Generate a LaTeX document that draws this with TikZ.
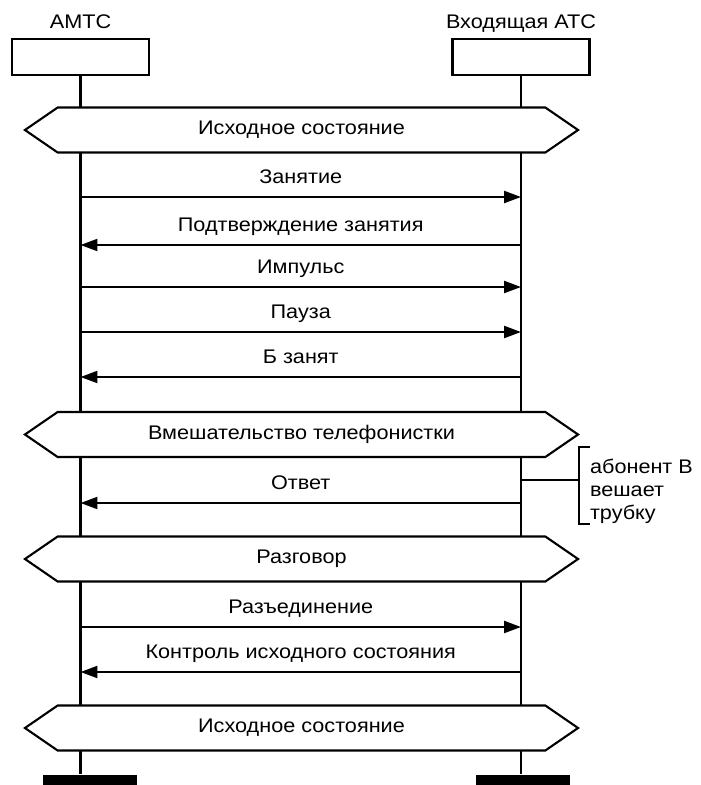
\documentclass[tikz,border=0pt]{standalone}
\usepackage{fontspec}
\setmainfont{Liberation Sans}[FakeStretch=1.1]
\usetikzlibrary{shapes.symbols, arrows.meta, positioning}

\begin{document}
\begin{tikzpicture}[
    x=0.025cm, y=-0.025cm,
    font=\fontsize{14}{16.4}\selectfont,
    >={Triangle[length=12pt, width=8.5pt]},
    line width=1.5pt,
    unit/.style={
        draw, minimum width=3.425cm, minimum height=0.9cm, inner sep=0pt
    },
    state/.style={
        draw, fill=white, signal, signal to=west and east, signal pointer angle=69,
        minimum width=13.825cm, minimum height=1.125cm, inner sep=0pt
    },
    stopbar/.style={
        fill=black, minimum width=2.35cm, minimum height=0.3cm, inner sep=0pt
    },
    msg/.style={->},
    lab/.style={midway, anchor=base, yshift=9.5pt}
]
\useasboundingbox (0,0) rectangle (701,785);

% EXCHANGES (top)
\node[anchor=base] (amtsname) at (80.5,28) {АМТС};
\node[anchor=base] (atcname) at (521,28) {Входящая АТС};
\node[unit] (amts) at (80.5,57) {};
\node[unit] (atc) at (521,57) {};

% END BARS
\node[stopbar] (amtsend) at (90,781) {};
\node[stopbar] (atcend) at (523,781) {};

% LIFELINES
\draw (amts.south) -- (amts.south |- amtsend.north);
\draw (atc.south) -- (atc.south |- atcend.north);

% STATES
\node[state] (idle1) at (301.5,130) {Исходное состояние};
\node[state] (operator) at (301.5,434.5) {Вмешательство телефонистки};
\node[state] (talk) at (301.5,559) {Разговор};
\node[state] (idle2) at (301.5,728) {Исходное состояние};

% MESSAGES
\coordinate (m1) at (0,197);
\coordinate (m2) at (0,245);
\coordinate (m3) at (0,287);
\coordinate (m4) at (0,332);
\coordinate (m5) at (0,377);
\coordinate (m6) at (0,503);
\coordinate (m7) at (0,627);
\coordinate (m8) at (0,672);

\draw[msg] (amts |- m1) -- (atc |- m1) node[lab] {Занятие};
\draw[msg] (atc |- m2) -- (amts |- m2) node[lab] {Подтверждение занятия};
\draw[msg] (amts |- m3) -- (atc |- m3) node[lab] {Импульс};
\draw[msg] (amts |- m4) -- (atc |- m4) node[lab] {Пауза};
\draw[msg] (atc |- m5) -- (amts |- m5) node[lab] {Б занят};
\draw[msg] (atc |- m6) -- (amts |- m6) node[lab] {Ответ};
\draw[msg] (amts |- m7) -- (atc |- m7) node[lab] {Разъединение};
\draw[msg] (atc |- m8) -- (amts |- m8) node[lab] {Контроль исходного состояния};

% SUBSCRIBER B HANGS UP
\node[anchor=west, align=left, inner sep=0pt] (hangup) at (589,491) {абонент В\\вешает\\трубку};
\coordinate (tick) at (579,480);
\draw (atc |- tick) -- (tick);
\draw (590,447) -- (579,447) -- (579,524) -- (590,524);

\end{tikzpicture}
\end{document}
